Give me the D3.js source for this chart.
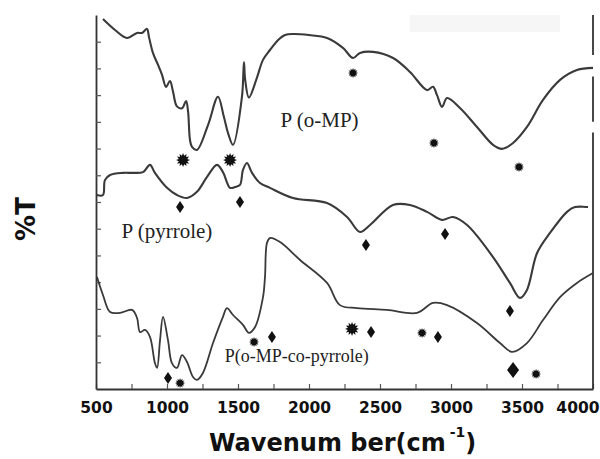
<!DOCTYPE html>
<html>
<head>
<meta charset="utf-8">
<script src="https://cdn.jsdelivr.net/npm/d3@7/dist/d3.min.js"></script>
<style>
  body { margin: 0; background: #fff; }
  svg text { font-family: "DejaVu Sans", sans-serif; }
</style>
</head>
<body>
<div id="chart"></div>
<script>
// wavenumber (cm-1), %T in arbitrary units (0-14 across the frame)
const oMP = [
  [549, 13.85], [634, 13.44], [718, 13.14], [789, 13.33], [824, 13.33], [859, 13.48],
  [873, 13.18], [901, 12.58], [937, 12.13], [965, 11.76], [993, 11.31], [1021, 11.53],
  [1042, 11.14], [1070, 10.58], [1106, 10.51], [1134, 10.78], [1148, 10.41], [1162, 9.32],
  [1176, 9.06], [1211, 8.95], [1290, 9.9], [1359, 10.94], [1400, 10.2], [1430, 9.58],
  [1465, 9.14], [1528, 10.94], [1542, 12.24], [1550, 11.6], [1577, 10.91], [1630, 11.6],
  [1676, 12.32], [1725, 12.69], [1790, 13.1], [1831, 13.25], [1887, 13.29], [2000, 13.25],
  [2127, 13.14], [2239, 12.77], [2310, 12.39], [2359, 12.58], [2451, 12.62], [2592, 12.39],
  [2711, 11.87], [2831, 11.19], [2873, 11.31], [2901, 11.01], [2937, 10.56], [2972, 10.89],
  [3063, 10.52], [3183, 9.81], [3296, 9.14], [3359, 8.99], [3437, 9.21], [3535, 9.81],
  [3648, 10.82], [3768, 11.57], [3887, 11.94], [4000, 12.02]
];

const pyrrole = [
  [507, 7.26], [549, 7.26], [563, 7.82], [599, 8.01], [690, 8.09], [761, 8.09],
  [831, 8.12], [880, 8.39], [915, 8.09], [1000, 7.53], [1070, 7.26], [1141, 7.15],
  [1211, 7.38], [1282, 7.94], [1352, 8.39], [1394, 8.12], [1444, 7.53], [1479, 7.56],
  [1514, 7.64], [1535, 8.2], [1563, 8.46], [1599, 8.09], [1655, 7.71], [1725, 7.53],
  [1887, 7.15], [2127, 6.96], [2268, 6.44], [2359, 5.88], [2430, 6.14], [2591, 6.89],
  [2711, 6.89], [2831, 6.63], [2937, 6.33], [3014, 6.44], [3113, 6.14], [3296, 4.94],
  [3415, 3.97], [3486, 3.41], [3535, 3.71], [3606, 5.09], [3697, 5.84], [3817, 6.63],
  [3873, 6.81], [3965, 6.81]
];

const copolymer = [
  [507, 4.19], [549, 3.52], [599, 2.88], [669, 2.85], [754, 2.96], [789, 2.66],
  [810, 2.13], [845, 2.21], [880, 1.95], [915, 0.97], [930, 0.79], [951, 1.83],
  [972, 2.7], [1007, 1.83], [1035, 0.97], [1070, 0.79], [1106, 1.27], [1141, 1.01],
  [1183, 0.45], [1211, 0.34], [1253, 0.6], [1324, 1.72], [1394, 2.7], [1422, 3.03],
  [1465, 2.77], [1535, 2.4], [1577, 2.1], [1620, 2.32], [1676, 3.44], [1690, 4.19],
  [1704, 5.47], [1725, 5.65], [1796, 5.5], [1937, 4.83], [2127, 3.97], [2218, 3.14],
  [2338, 3.03], [2549, 2.96], [2761, 2.85], [2873, 3.22], [2972, 3.14], [3183, 2.47],
  [3345, 1.72], [3430, 1.39], [3535, 1.72], [3648, 2.58], [3768, 3.44], [3887, 3.97],
  [4000, 4.34]
];

// band markers: star = o-MP bands, diamond = pyrrole bands
const bigStars = [[1113, 8.57], [1444, 8.57], [2303, 2.25]];
const smallStars = [[2310, 11.83], [2880, 9.21], [3479, 8.31], [1092, 0.22], [1613, 1.76], [2796, 2.1], [3599, 0.56]];
const diamonds = [[1092, 6.81], [1514, 7.0], [2401, 5.39], [2958, 5.8], [3415, 2.92],
  [1007, 0.41], [1739, 1.95], [2437, 2.13], [2908, 1.95]];
const bigDiamonds = [[3437, 0.71]];

const labels = [
  {text: 'P (o-MP)', w: 1800, v: 9.8},
  {text: 'P (pyrrole)', w: 680, v: 5.65},
  {text: 'P(o-MP-co-pyrrole)', w: 1407, v: 1.0}
];

const xTicks = d3.range(500, 4001, 250);
const yTicks = d3.range(1, 14);

const margin = {top: 15, right: 7, bottom: 70, left: 96};
const W = 600, H = 459;
const width = W - margin.left - margin.right;
const height = H - margin.top - margin.bottom;

const x = d3.scaleLinear().domain([500, 4000]).range([0, width]);
const y = d3.scaleLinear().domain([0, 14]).range([height, 0]);

const svg = d3.select('#chart').append('svg')
  .attr('width', W)
  .attr('height', H);

// faint patch near the top right of the scan
svg.append('rect')
  .attr('x', 410).attr('y', 15).attr('width', 150).attr('height', 17)
  .attr('fill', '#f6f6f6');

const g = svg.append('g')
  .attr('transform', 'translate(' + margin.left + ',' + margin.top + ')');

// x axis, ticks pointing inward
const xaxis = d3.axisBottom(x)
  .tickValues(xTicks)
  .tickSize(-5)
  .tickSizeOuter(0)
  .tickPadding(13)
  .tickFormat(d => d % 500 === 0 ? d : '');

const gx = g.append('g')
  .attr('transform', 'translate(0,' + height + ')')
  .call(xaxis);
gx.selectAll('text')
  .attr('font-size', 15.5)
  .attr('font-weight', 'bold')
  .attr('fill', '#111');
// last label would run off the page
gx.selectAll('.tick').filter(d => d === 4000).select('text')
  .attr('text-anchor', 'end')
  .attr('dx', 6);

// y axis, no labels
const yaxis = d3.axisLeft(y).tickValues(yTicks).tickSize(-5).tickSizeOuter(0).tickFormat('');
const gy = g.append('g').call(yaxis);

[gx, gy].forEach(a => {
  a.select('.domain').attr('stroke', '#333').attr('stroke-width', 1.8);
  a.selectAll('.tick line').attr('stroke', '#555').attr('stroke-width', 1.2);
});

// broken right frame
[[14, 12.5], [11.7, 10], [9.6, 0]].forEach(s => {
  g.append('line')
    .attr('x1', x(4000)).attr('x2', x(4000))
    .attr('y1', y(s[0])).attr('y2', y(s[1]))
    .attr('stroke', '#333').attr('stroke-width', 1.8);
});

// spectra
const line = d3.line()
  .x(d => x(d[0]))
  .y(d => y(d[1]))
  .curve(d3.curveCatmullRom.alpha(0.5));

[oMP, pyrrole, copolymer].forEach((s, i) => {
  g.append('path')
    .attr('d', line(s))
    .attr('fill', 'none')
    .attr('stroke', '#3a3a3a')
    .attr('stroke-width', i === 2 ? 1.8 : 2.1)
    .attr('stroke-linejoin', 'round');
});

// markers
function burst(r) {
  const pts = d3.range(24).map(i => {
    const a = i * Math.PI / 12;
    const rr = i % 2 ? r * 0.62 : r;
    return [Math.cos(a) * rr, Math.sin(a) * rr];
  });
  return 'M' + pts.join('L') + 'Z';
}
function diamond(w, h) {
  return 'M0,' + (-h / 2) + 'L' + (w / 2) + ',0L0,' + (h / 2) + 'L' + (-w / 2) + ',0Z';
}

g.selectAll('.bigstar').data(bigStars).join('path')
  .attr('transform', d => 'translate(' + x(d[0]) + ',' + y(d[1]) + ')')
  .attr('d', burst(7)).attr('fill', '#111');
g.selectAll('.smallstar').data(smallStars).join('path')
  .attr('transform', d => 'translate(' + x(d[0]) + ',' + y(d[1]) + ')')
  .attr('d', burst(5)).attr('fill', '#111');
g.selectAll('.diamond').data(diamonds).join('path')
  .attr('transform', d => 'translate(' + x(d[0]) + ',' + y(d[1]) + ')')
  .attr('d', diamond(8, 12)).attr('fill', '#111');
g.selectAll('.bigdiamond').data(bigDiamonds).join('path')
  .attr('transform', d => 'translate(' + x(d[0]) + ',' + y(d[1]) + ')')
  .attr('d', diamond(12, 16)).attr('fill', '#111');

// curve labels
g.selectAll('.lbl').data(labels).join('text')
  .attr('x', d => x(d.w))
  .attr('y', d => y(d.v))
  .attr('font-size', (d, i) => i === 2 ? 18 : 21)
  .attr('fill', '#222')
  .style('font-family', '"Liberation Serif", serif')
  .text(d => d.text);

// axis titles
const xt = svg.append('text')
  .attr('x', 209)
  .attr('y', 451)
  .attr('font-size', 24)
  .attr('font-weight', 'bold')
  .attr('fill', '#111');
xt.append('tspan').text('Wavenum ber(cm');
xt.append('tspan').attr('dx', 4).attr('dy', -14).attr('font-size', 14).text('-1');
xt.append('tspan').attr('dy', 14).text(')');

svg.append('text')
  .attr('transform', 'translate(35,219) rotate(-90)')
  .attr('text-anchor', 'middle')
  .attr('font-size', 26)
  .attr('font-weight', 'bold')
  .attr('fill', '#111')
  .text('%T');
</script>
</body>
</html>
